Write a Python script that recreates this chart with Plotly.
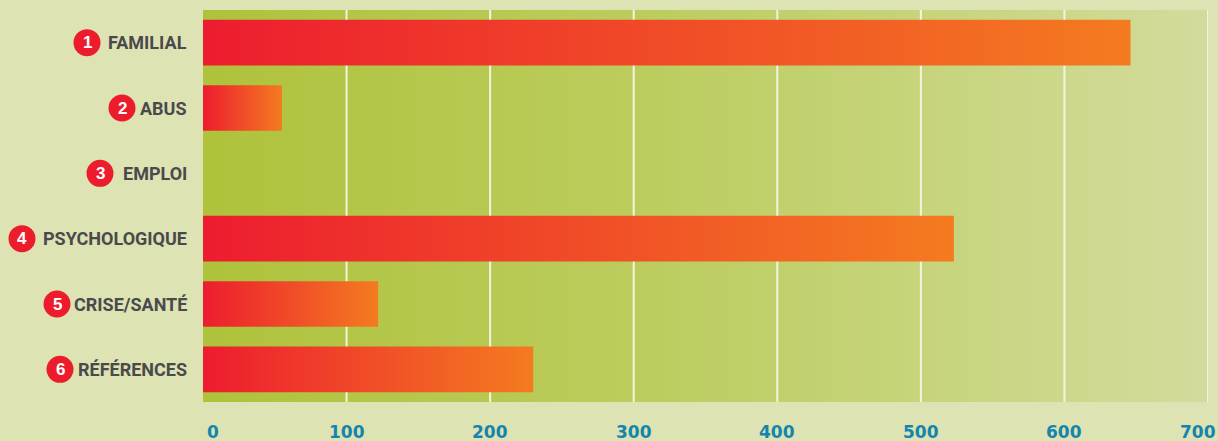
import plotly.graph_objects as go

# Data
categories = ["FAMILIAL", "ABUS", "EMPLOI", "PSYCHOLOGIQUE", "CRISE/SANTÉ", "RÉFÉRENCES"]
badges = ["1", "2", "3", "4", "5", "6"]
values = [646, 55, 0, 523, 122, 230]
tick_values = [0, 100, 200, 300, 400, 500, 600, 700]
tick_labels = ["0", "100", "200", "300", "400", "500", "600", "700"]

# Styling
PAPER = "#dde3b2"
BAR_SCALE = [[0, "#ed1c2f"], [1, "#f47b20"]]
BG_SCALE = [[0, "#afc23b"], [0.45, "#bccd5f"], [0.75, "#c8d57f"], [1, "#d3db9c"]]
GRID = "#f4f4de"
LABEL_COLOR = "#4a4a4c"
TICK_COLOR = "#1585ae"
BADGE_RED = "#ec1c2d"
LABEL_FONT = "Roboto, Liberation Sans, sans-serif"
BAR_HALF = 0.35
X_MAX = tick_values[-1]
n = len(categories)
y_lo, y_hi = -0.5, n - 0.5

# distance (px) from the plot's left edge to each badge centre
badge_offsets = [116, 81, 103, 181, 146, 143]
BADGE_R = 13.5

fig = go.Figure()

# gradient backdrop of the plotting area
fig.add_trace(go.Scatter(
    x=[0, X_MAX, X_MAX, 0, 0], y=[y_lo, y_lo, y_hi, y_hi, y_lo],
    mode="lines", fill="toself", line=dict(width=0),
    fillgradient=dict(type="horizontal", colorscale=BG_SCALE),
    hoverinfo="skip", showlegend=False,
))

# vertical grid lines (drawn over the backdrop, under the bars)
gx, gy = [], []
for v in tick_values[1:]:
    gx += [v, v, None]
    gy += [y_lo, y_hi, None]
fig.add_trace(go.Scatter(
    x=gx, y=gy, mode="lines", line=dict(color=GRID, width=2),
    hoverinfo="skip", showlegend=False,
))

# one gradient-filled bar per category
for i, (cat, v) in enumerate(zip(categories, values)):
    if v <= 0:
        continue
    fig.add_trace(go.Scatter(
        x=[0, v, v, 0, 0],
        y=[i - BAR_HALF, i - BAR_HALF, i + BAR_HALF, i + BAR_HALF, i - BAR_HALF],
        mode="lines", fill="toself", line=dict(width=0),
        fillgradient=dict(type="horizontal", colorscale=BAR_SCALE),
        name=cat, hoverinfo="skip", showlegend=False,
    ))

shapes = []
annotations = []
for i, (cat, b, off) in enumerate(zip(categories, badges, badge_offsets)):
    annotations.append(dict(
        x=0, xref="paper", y=i, yref="y", xanchor="right", yanchor="middle",
        xshift=-14, text=cat, showarrow=False,
        font=dict(family=LABEL_FONT, size=18, color=LABEL_COLOR, weight="bold"),
    ))
    shapes.append(dict(
        type="circle", xref="paper", xsizemode="pixel", xanchor=0,
        x0=-off - BADGE_R, x1=-off + BADGE_R,
        yref="y", ysizemode="pixel", yanchor=i, y0=-BADGE_R, y1=BADGE_R,
        fillcolor=BADGE_RED, line=dict(width=0), layer="above",
    ))
    annotations.append(dict(
        x=0, xref="paper", y=i, yref="y", xanchor="center", yanchor="middle",
        xshift=-off, text=b, showarrow=False,
        font=dict(family="Liberation Sans, Arial, sans-serif", size=17,
                  color="white", weight="bold"),
    ))

# x-axis tick labels, end labels nudged inward
for k, (tv, tl) in enumerate(zip(tick_values, tick_labels)):
    shift = 10 if k == 0 else (-10 if k == len(tick_values) - 1 else 0)
    annotations.append(dict(
        x=tv, xref="x", y=0, yref="paper", xanchor="center", yanchor="bottom",
        xshift=shift, yshift=-42, text=tl, showarrow=False,
        font=dict(family="DejaVu Sans, sans-serif", size=17, color=TICK_COLOR,
                  weight="bold"),
    ))

fig.update_layout(
    width=1218, height=441,
    margin=dict(l=203, r=10, t=10, b=39),
    paper_bgcolor=PAPER, plot_bgcolor=PAPER,
    xaxis=dict(range=[0, X_MAX], showgrid=False, zeroline=False,
               showticklabels=False, ticks="", fixedrange=True),
    yaxis=dict(range=[y_hi, y_lo], showgrid=False, zeroline=False,
               showticklabels=False, ticks="", fixedrange=True),
    shapes=shapes, annotations=annotations,
    showlegend=False,
)

fig.write_html("out.html")
